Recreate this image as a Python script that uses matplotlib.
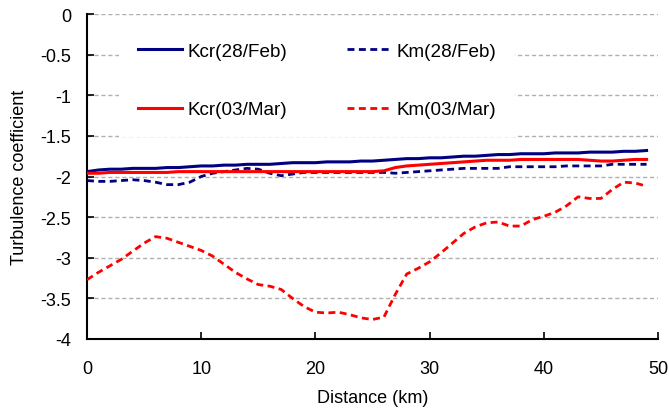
import matplotlib
matplotlib.use("Agg")
import matplotlib.pyplot as plt

plt.rcParams['font.family'] = ['Liberation Sans', 'DejaVu Sans']

distance = list(range(0, 50))

kcr_feb = [-1.94, -1.92, -1.91, -1.91, -1.90, -1.90, -1.90, -1.89, -1.89, -1.88,
           -1.87, -1.87, -1.86, -1.86, -1.85, -1.85, -1.85, -1.84, -1.83, -1.83,
           -1.83, -1.82, -1.82, -1.82, -1.81, -1.81, -1.80, -1.79, -1.78, -1.78,
           -1.77, -1.77, -1.76, -1.75, -1.75, -1.74, -1.73, -1.73, -1.72, -1.72,
           -1.72, -1.71, -1.71, -1.71, -1.70, -1.70, -1.70, -1.69, -1.69, -1.68]

km_feb = [-2.05, -2.06, -2.06, -2.05, -2.04, -2.05, -2.07, -2.10, -2.10, -2.07,
          -2.00, -1.96, -1.94, -1.92, -1.90, -1.91, -1.96, -1.99, -1.97, -1.95,
          -1.95, -1.95, -1.95, -1.95, -1.95, -1.95, -1.95, -1.96, -1.95, -1.94,
          -1.93, -1.92, -1.91, -1.90, -1.90, -1.90, -1.90, -1.88, -1.88, -1.88,
          -1.88, -1.88, -1.87, -1.87, -1.87, -1.87, -1.85, -1.85, -1.85, -1.85]

kcr_mar = [-1.96, -1.96, -1.95, -1.95, -1.95, -1.95, -1.95, -1.95, -1.94, -1.94,
           -1.94, -1.94, -1.94, -1.94, -1.94, -1.94, -1.94, -1.94, -1.94, -1.94,
           -1.94, -1.94, -1.94, -1.94, -1.94, -1.94, -1.93, -1.89, -1.87, -1.86,
           -1.85, -1.84, -1.83, -1.82, -1.81, -1.80, -1.80, -1.80, -1.79, -1.79,
           -1.79, -1.79, -1.79, -1.79, -1.80, -1.81, -1.81, -1.80, -1.79, -1.79]

km_mar = [-3.27, -3.18, -3.10, -3.02, -2.92, -2.82, -2.74, -2.76, -2.81, -2.86,
          -2.91, -2.98, -3.08, -3.18, -3.26, -3.33, -3.35, -3.39, -3.50, -3.60,
          -3.67, -3.68, -3.67, -3.70, -3.74, -3.76, -3.73, -3.45, -3.20, -3.13,
          -3.05, -2.94, -2.82, -2.70, -2.62, -2.57, -2.56, -2.61, -2.61, -2.53,
          -2.49, -2.44, -2.36, -2.25, -2.27, -2.27, -2.16, -2.07, -2.08, -2.12]

x_ticks = [0, 10, 20, 30, 40, 50]
y_ticks = [0, -0.5, -1, -1.5, -2, -2.5, -3, -3.5, -4]
y_ticklabels = ['0', '-0.5', '-1', '-1.5', '-2', '-2.5', '-3', '-3.5', '-4']

navy = '#000080'
red = '#FF0000'

fig = plt.figure(figsize=(6.69, 4.14), dpi=100)
ax = fig.add_axes([87/669, 1-340/414, (658-87)/669, (340-15)/414])

dash = (0, (2.5, 1.6))
ax.plot(distance, kcr_feb, color=navy, lw=2.2, label='Kcr(28/Feb)', zorder=3)
ax.plot(distance, km_feb, color=navy, lw=2.0, ls=dash, label='Km(28/Feb)', zorder=3)
ax.plot(distance, kcr_mar, color=red, lw=2.2, label='Kcr(03/Mar)', zorder=3)
ax.plot(distance, km_mar, color=red, lw=2.0, ls=dash, label='Km(03/Mar)', zorder=3)

ax.set_xlim(0, 50)
ax.set_ylim(-4, 0)
ax.set_xticks(x_ticks)
ax.set_yticks(y_ticks)
ax.set_yticklabels(y_ticklabels)
ax.tick_params(direction='in', length=5, width=1.2, labelsize=13, colors='black')
ax.tick_params(axis='y', pad=11.5)
ax.tick_params(axis='x', pad=15)

for v in y_ticks[:-1]:
    ax.axhline(v, color='#b0b0b0', lw=1, ls=(0, (3, 2)), zorder=1)

for s in ['top', 'right']:
    ax.spines[s].set_visible(False)
for s in ['left', 'bottom']:
    ax.spines[s].set_linewidth(1.5)
    ax.spines[s].set_color('black')

ax.set_xlabel('Distance (km)', fontsize=13, labelpad=9)
ax.set_ylabel('Turbulence coefficient', fontsize=13, labelpad=9)

handles, labels = ax.get_legend_handles_labels()
order = [0, 2, 1, 3]
leg = ax.legend([handles[i] for i in order], [labels[i] for i in order],
                ncol=2, loc='upper left', bbox_to_anchor=(0.040, 1.0),
                frameon=True, facecolor='white', edgecolor='none', framealpha=1,
                fancybox=False, fontsize=13.6, handlelength=2.3, handletextpad=0.3,
                columnspacing=3.2, labelspacing=2.2, borderpad=1.0)
leg.set_zorder(5)

fig.savefig('out.png', dpi=100)
